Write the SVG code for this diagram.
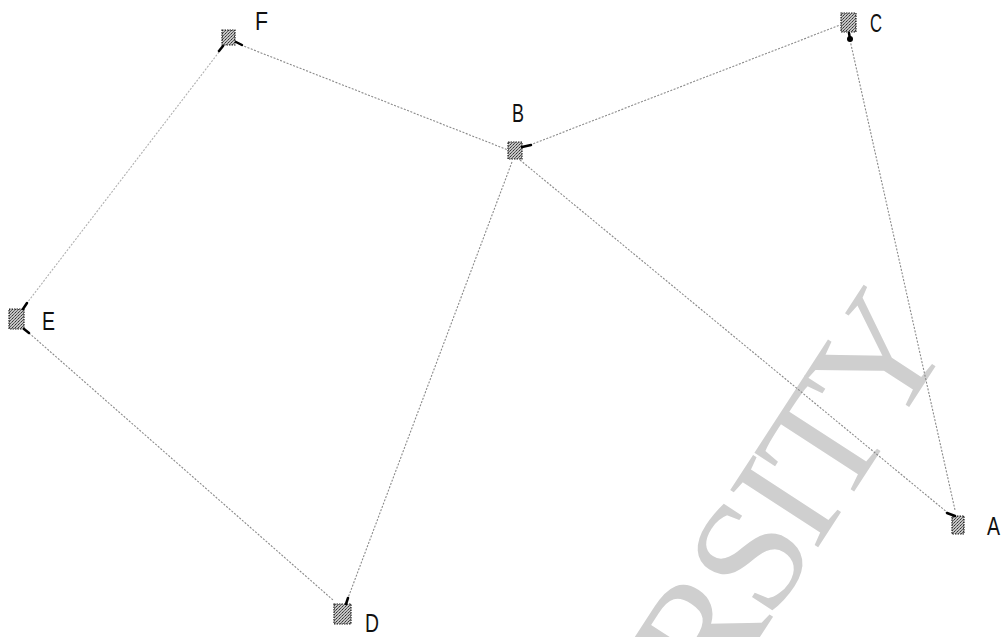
<svg xmlns="http://www.w3.org/2000/svg" width="1001" height="637" viewBox="0 0 1001 637">
  <defs>
    <pattern id="dots" width="3" height="3" patternUnits="userSpaceOnUse">
      <rect width="3" height="3" fill="#c4c4c4"/>
      <rect x="0" y="0" width="1" height="1" fill="#333"/>
      <rect x="2" y="1" width="1" height="1" fill="#666"/>
      <rect x="1" y="2" width="1" height="1" fill="#555"/>
    </pattern>
    <style>
      .edge { stroke: #8a8a8a; stroke-width: 1.1; stroke-dasharray: 2 1.5; fill: none; }
      .faint { stroke: #b0b0b0; }
      .icon { fill: url(#dots); stroke: #222; stroke-width: 1.2; stroke-dasharray: 1.5 1; }
      .port { fill: #000; stroke: #000; stroke-width: 2.5; stroke-linecap: round; }
      .label { font-family: "Liberation Sans", "DejaVu Sans", sans-serif; font-size: 26px; fill: #111; }
      .wm { font-family: "Liberation Serif", "DejaVu Serif", serif; font-size: 160px; letter-spacing: -6px; fill: #cfcfcf; }
    </style>
  </defs>
  <rect width="1001" height="637" fill="#fff"/>

  <text class="wm" transform="translate(715,706) rotate(-57)">RSITY</text>

  <g id="connectors">
    <line class="edge" x1="241" y1="45" x2="508" y2="150"/>
    <line class="edge" x1="530" y1="145" x2="840" y2="25"/>
    <line class="edge" x1="520" y1="160" x2="948" y2="513"/>
    <line class="edge" x1="512" y1="162" x2="348" y2="598"/>
    <line class="edge faint" x1="219" y1="52" x2="27" y2="303"/>
    <line class="edge" x1="29" y1="333" x2="333" y2="600"/>
    <line class="edge" x1="850" y1="40" x2="955" y2="510"/>
  </g>

  <g id="node-F">
    <rect class="icon" x="222" y="30" width="13" height="15"/>
    <path class="port" d="M223 46 L219 51"/>
    <path class="port" d="M236 42 L242 45"/>
    <text class="label" x="255" y="30" textLength="13" lengthAdjust="spacingAndGlyphs">F</text>
  </g>
  <g id="node-B">
    <rect class="icon" x="508" y="142" width="14" height="17"/>
    <path class="port" d="M522 147 L531 145"/>
    <text class="label" x="512" y="122" textLength="12" lengthAdjust="spacingAndGlyphs">B</text>
  </g>
  <g id="node-C">
    <rect class="icon" x="841" y="13" width="15" height="19"/>
    <path class="port" d="M849 33 L850 39"/>
    <circle cx="850" cy="39" r="3" fill="#000"/>
    <text class="label" x="870" y="32" textLength="12" lengthAdjust="spacingAndGlyphs">C</text>
  </g>
  <g id="node-E">
    <rect class="icon" x="9" y="309" width="15" height="20"/>
    <path class="port" d="M23 309 L27 303"/>
    <path class="port" d="M24 329 L29 333"/>
    <text class="label" x="42" y="330" textLength="13" lengthAdjust="spacingAndGlyphs">E</text>
  </g>
  <g id="node-D">
    <rect class="icon" x="334" y="604" width="17" height="20"/>
    <path class="port" d="M346 604 L348 598"/>
    <text class="label" x="365" y="632" textLength="14" lengthAdjust="spacingAndGlyphs">D</text>
  </g>
  <g id="node-A">
    <rect class="icon" x="952" y="516" width="12" height="18"/>
    <path class="port" d="M947 513 L955 516"/>
    <text class="label" x="987" y="535" textLength="13" lengthAdjust="spacingAndGlyphs">A</text>
  </g>
</svg>
